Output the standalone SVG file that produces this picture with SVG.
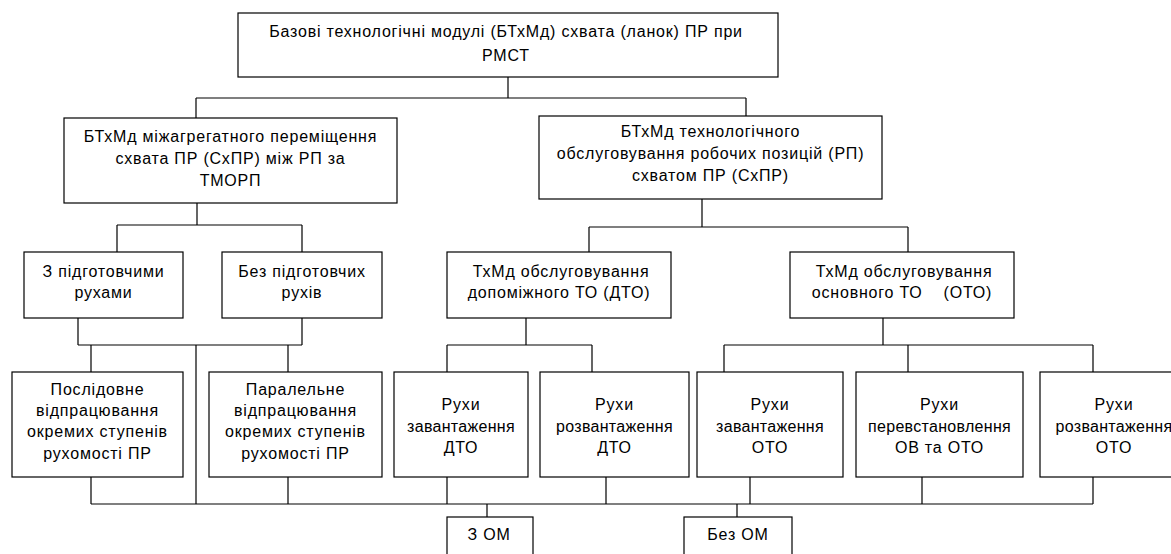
<svg xmlns="http://www.w3.org/2000/svg" width="1171" height="554" viewBox="0 0 1171 554">
<style>
.box{fill:#fff;stroke:#000;stroke-width:1.2}
.ln{fill:none;stroke:#000;stroke-width:1.2}
text{font-family:"Liberation Sans",Arial,sans-serif;font-size:16px;fill:#000;text-anchor:middle;letter-spacing:0.8px}
.t{letter-spacing:0.3px}
</style>
<rect width="1171" height="554" fill="#fff"/>
<g id="connectors">
<path class="ln" d="M508 77V98M196 98H746M196 98V118M746 98V116"/>
<path class="ln" d="M197 203V225M117 225H302M117 225V252M302 225V252"/>
<path class="ln" d="M702 199V227M589 227H908M589 227V252M908 227V252"/>
<path class="ln" d="M78 318V345M302 318V345M78 345H302M91 345V372M288 345V372M196 345V504"/>
<path class="ln" d="M526 318V345M447 345H592M447 345V372M592 345V372"/>
<path class="ln" d="M883 318V345M724 345H1093M724 345V372M908 345V372M1093 345V372"/>
<path class="ln" d="M91 504H1093M91 477V504M288 477V504M447 477V504M606 477V504M750 477V504M922 477V504M1093 477V504"/>
<path class="ln" d="M487 504V517M737 504V517"/>
</g>
<g id="n-top"><rect class="box" x="238" y="13" width="540" height="64"/>
<text x="506" y="37">Базові технологічні модулі (БТхМд) схвата (ланок) ПР при</text>
<text x="506" y="61">РМСТ</text></g>
<g id="n-inter"><rect class="box" x="64" y="118" width="333" height="85"/>
<text x="230.5" y="142">БТхМд міжагрегатного переміщення</text>
<text x="230.5" y="164">схвата ПР (СхПР) між РП за</text>
<text x="230.5" y="186">ТМОРП</text></g>
<g id="n-service"><rect class="box" x="539" y="116" width="343" height="83"/>
<text x="710.5" y="137">БТхМд технологічного</text>
<text x="710.5" y="159">обслуговування робочих позицій (РП)</text>
<text x="710.5" y="181">схватом ПР (СхПР)</text></g>
<g id="n-prep"><rect class="box" x="24" y="252" width="159" height="66"/>
<text x="103.5" y="277">З підготовчими</text>
<text x="103.5" y="298">рухами</text></g>
<g id="n-noprep"><rect class="box" x="222" y="252" width="160" height="66"/>
<text x="302" y="277">Без підготовчих</text>
<text x="302" y="298">рухів</text></g>
<g id="n-dto"><rect class="box" x="447" y="252" width="224" height="66"/>
<text x="561" y="277">ТхМд обслуговування</text>
<text x="559" y="298">допоміжного ТО (ДТО)</text></g>
<g id="n-oto"><rect class="box" x="790" y="252" width="224" height="66"/>
<text x="904" y="277">ТхМд обслуговування</text>
<text x="902" y="298" xml:space="preserve">основного ТО    (ОТО)</text></g>
<g id="n-seq"><rect class="box" x="12" y="372" width="171" height="105"/>
<text x="97.5" y="395">Послідовне</text>
<text x="97.5" y="416">відпрацювання</text>
<text x="97.5" y="437">окремих ступенів</text>
<text x="97.5" y="459">рухомості ПР</text></g>
<g id="n-par"><rect class="box" x="209" y="372" width="173" height="105"/>
<text x="295.5" y="395">Паралельне</text>
<text x="295.5" y="416">відпрацювання</text>
<text x="295.5" y="437">окремих ступенів</text>
<text x="295.5" y="459">рухомості ПР</text></g>
<g id="n-load-dto"><rect class="box" x="394" y="372" width="134" height="105"/>
<text x="461" y="410">Рухи</text>
<text class="t" x="461" y="432">завантаження</text>
<text x="461" y="453">ДТО</text></g>
<g id="n-unload-dto"><rect class="box" x="540" y="372" width="149" height="105"/>
<text x="614.5" y="410">Рухи</text>
<text class="t" x="614.5" y="432">розвантаження</text>
<text x="614.5" y="453">ДТО</text></g>
<g id="n-load-oto"><rect class="box" x="697" y="372" width="146" height="105"/>
<text x="770" y="410">Рухи</text>
<text class="t" x="770" y="432">завантаження</text>
<text x="770" y="453">ОТО</text></g>
<g id="n-reset"><rect class="box" x="856" y="372" width="167" height="105"/>
<text x="939.5" y="410">Рухи</text>
<text class="t" x="939.5" y="432">перевстановлення</text>
<text x="939.5" y="453">ОВ та ОТО</text></g>
<g id="n-unload-oto"><rect class="box" x="1040" y="372" width="150" height="105"/>
<text x="1114" y="410">Рухи</text>
<text class="t" x="1114" y="432">розвантаження</text>
<text x="1114" y="453">ОТО</text></g>
<g id="n-om"><rect class="box" x="447" y="517" width="86" height="50"/>
<text x="489" y="540">З ОМ</text></g>
<g id="n-noom"><rect class="box" x="684" y="517" width="108" height="50"/>
<text x="738" y="540">Без ОМ</text></g>
</svg>
